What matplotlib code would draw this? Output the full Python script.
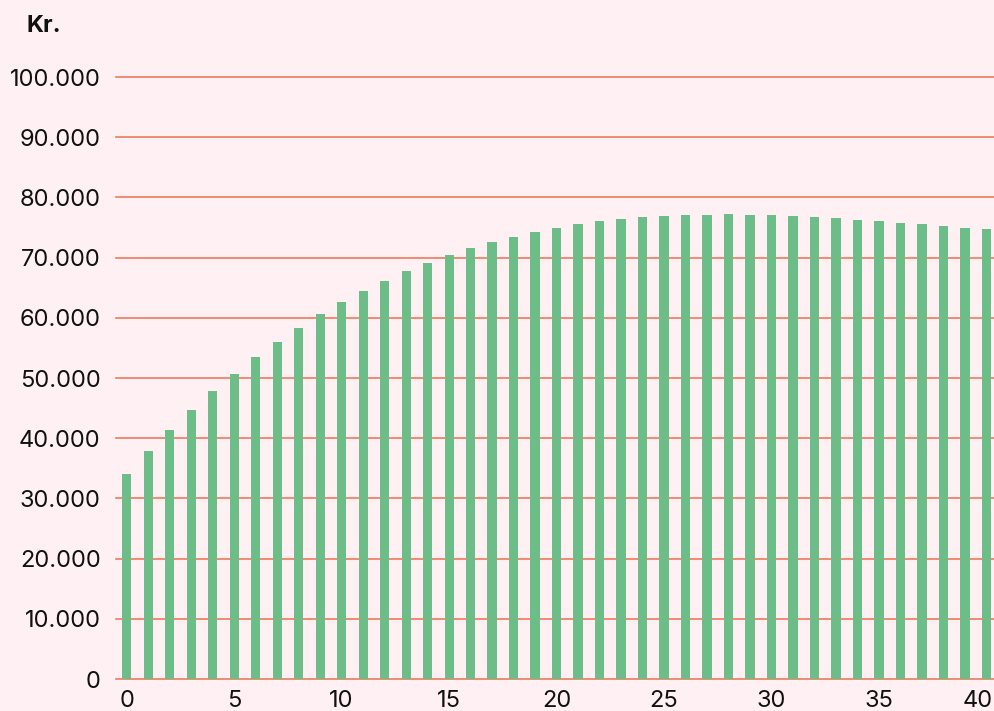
import matplotlib.pyplot as plt
import matplotlib.transforms as mtransforms
from matplotlib.ticker import FuncFormatter

# year index 0..40 and value in Kr.
years = list(range(41))
values = [
    34050, 37900, 41400, 44700, 47800, 50700, 53500, 56000, 58300, 60600,
    62600, 64400, 66100, 67800, 69100, 70400, 71600, 72600, 73400, 74300,
    74900, 75600, 76100, 76400, 76700, 76900, 77100, 77100, 77200, 77100,
    77100, 76900, 76700, 76600, 76200, 76100, 75700, 75600, 75200, 74900,
    74800,
]
y_ticks = list(range(0, 100001, 10000))
x_ticks = list(range(0, 41, 5))

bg = "#fff1f3"
grid_color = "#f07a5c"
bar_color = "#6dbd88"

plt.rcParams['font.family'] = ['Inter', 'DejaVu Sans']

fig = plt.figure(figsize=(9.95, 7.11), dpi=100, facecolor=bg)
ax = fig.add_axes([0.1166, 0.045, 0.8834, 0.8467], facecolor=bg)

ax.bar(years, values, width=0.43, color=bar_color, zorder=3)

ax.set_xlim(-0.5, 40.4)
ax.set_ylim(0, 100000)
ax.set_yticks(y_ticks)
ax.set_xticks(x_ticks)
ax.yaxis.set_major_formatter(FuncFormatter(lambda v, _: f"{int(v):,}".replace(",", ".")))

ax.grid(axis="y", color=grid_color, linewidth=1.2, zorder=1)
ax.set_axisbelow(True)
for line in ax.get_ygridlines():
    line.set_clip_on(False)
for s in ax.spines.values():
    s.set_visible(False)
ax.tick_params(axis="both", length=0, labelsize=17, colors="#111111")
ax.tick_params(axis="y", pad=11)
ax.tick_params(axis="x", pad=8)

# keep the last x label inside the canvas
last = ax.get_xticklabels()[-1]
last.set_horizontalalignment("right")
last.set_transform(last.get_transform() + mtransforms.ScaledTranslation(6 / 100, 0, fig.dpi_scale_trans))

fig.text(0.027, 0.963, "Kr.", fontsize=17, fontweight="bold", ha="left", va="center", color="#111111")

fig.savefig("out.png", dpi=100, facecolor=bg)
